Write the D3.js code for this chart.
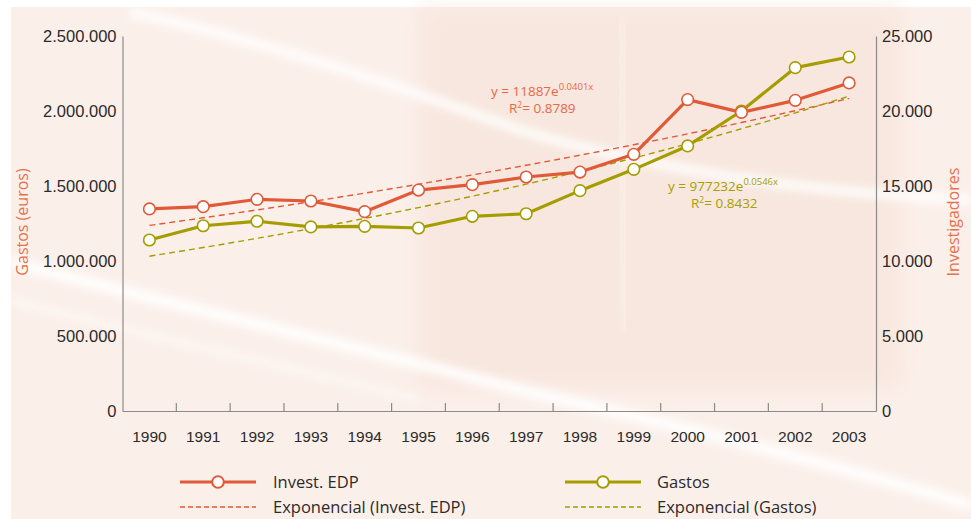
<!DOCTYPE html>
<html><head><meta charset="utf-8">
<script src="https://cdn.jsdelivr.net/npm/d3@7/dist/d3.min.js"></script>
<style>
html,body{margin:0;padding:0;background:#fff;}
svg{display:block;font-family:"Open Sans","DejaVu Sans",sans-serif;}
</style></head>
<body><svg id="c" width="971" height="519"></svg>
<script>
// ---- data ----
const years = ["1990","1991","1992","1993","1994","1995","1996","1997","1998","1999","2000","2001","2002","2003"];
// Invest. EDP (investigadores, right axis)
const investEDP = [13470,13620,14110,14000,13290,14730,15090,15600,15930,17110,20760,19910,20710,21870];
// Gastos (euros, left axis)
const gastos = [1140000,1235000,1265000,1227000,1231000,1220000,1298000,1315000,1469000,1611000,1767000,2000000,2289000,2360000];
// Exponential trend lines (values per year, as drawn)
const trendInvest = [12373,12880,13407,13955,14526,15120,15739,16383,17053,17751,18477,19233,20020,20840];
const trendGastos = [1032075,1089995,1151148,1215755,1283985,1356036,1432142,1512511,1597394,1687026,1781710,1881689,1987289,2098812];
const leftTicks = [0,500000,1000000,1500000,2000000,2500000];
const rightTicks = [0,5000,10000,15000,20000,25000];
const eqInvest = ["y = 11887e", "0.0401x", "R", "= 0.8789"];
const eqGastos = ["y = 977232e", "0.0546x", "R", "= 0.8432"];
const legendLabels = ["Invest. EDP","Exponencial (Invest. EDP)","Gastos","Exponencial (Gastos)"];

const ORANGE = "#e05a38", OLIVE = "#a59d00", AXIS = "#8a8a8a", TXT = "#2b2b2b", LABEL = "#e8704e";

const svg = d3.select("#c");
const W = 971, H = 519;

// ---- background ----
const defs = svg.append("defs");
defs.append("filter").attr("id","blur").append("feGaussianBlur").attr("stdDeviation",4);
defs.append("filter").attr("id","blur2").append("feGaussianBlur").attr("stdDeviation",10);
const bg = svg.append("g");
bg.append("rect").attr("x",11).attr("y",7).attr("width",W-11).attr("height",H-7).attr("fill","#fbefe9");
bg.append("rect").attr("x",420).attr("y",7).attr("width",480).attr("height",380).attr("fill","#f6e2d8").attr("opacity",0.6).attr("filter","url(#blur2)");
bg.append("path").attr("d","M130,12 C260,40 380,80 520,130 C620,160 760,190 971,200")
  .attr("fill","none").attr("stroke","#ffffff").attr("stroke-width",10).attr("opacity",0.85).attr("filter","url(#blur)");
bg.append("path").attr("d","M11,262 C150,300 330,340 520,390 C700,430 850,470 971,505")
  .attr("fill","none").attr("stroke","#ffffff").attr("stroke-width",12).attr("opacity",0.9).attr("filter","url(#blur)");
bg.append("path").attr("d","M11,300 C120,330 260,360 420,400")
  .attr("fill","none").attr("stroke","#ffffff").attr("stroke-width",6).attr("opacity",0.6).attr("filter","url(#blur)");
bg.append("path").attr("d","M620,20 L625,330").attr("fill","none").attr("stroke","#ffffff").attr("stroke-width",8).attr("opacity",0.35).attr("filter","url(#blur)");

// ---- scales ----
const x0 = 122.5, x1 = 876, yTop = 36, yBot = 411;
const x = d3.scaleBand().domain(years).range([x0, x1]).paddingInner(0).paddingOuter(0);
const yL = d3.scaleLinear().domain([0,2500000]).range([yBot, yTop]);
const yR = d3.scaleLinear().domain([0,25000]).range([yBot, yTop]);
const cx = d => x(d) + x.bandwidth()/2;
const fmt = v => d3.format(",")(v).replace(/,/g,".");

// ---- axes ----
const axL = svg.append("g").attr("transform",`translate(${x0},0)`)
  .call(d3.axisLeft(yL).tickValues(leftTicks).tickSize(0).tickPadding(6).tickFormat(fmt));
const axR = svg.append("g").attr("transform",`translate(${x1},0)`)
  .call(d3.axisRight(yR).tickValues(rightTicks).tickSize(0).tickPadding(6).tickFormat(fmt));
[axL,axR].forEach(a=>{
  a.select(".domain").attr("stroke",AXIS).attr("stroke-width",1.2);
  a.selectAll("text").attr("fill",TXT).attr("font-size",16.5);
});
const axB = svg.append("g").attr("transform",`translate(0,${yBot})`)
  .call(d3.axisBottom(x).tickSize(0).tickPadding(20));
axB.select(".domain").attr("stroke",AXIS).attr("stroke-width",1.2);
axB.selectAll("text").attr("fill",TXT).attr("font-size",15.5);
// category boundary ticks (pointing up)
svg.append("g").selectAll("line").data(years.slice(1)).join("line")
  .attr("x1",d=>x(d)).attr("x2",d=>x(d)).attr("y1",yBot).attr("y2",yBot-8)
  .attr("stroke",AXIS).attr("stroke-width",1.2);

// axis titles
svg.append("text").attr("transform",`translate(28,222) rotate(-90)`).attr("text-anchor","middle")
  .attr("fill",LABEL).attr("font-size",16).text("Gastos (euros)");
svg.append("text").attr("transform",`translate(959,222) rotate(-90)`).attr("text-anchor","middle")
  .attr("fill",LABEL).attr("font-size",16).text("Investigadores");

// ---- trend lines ----
const lineR = d3.line().x((d,i)=>cx(years[i])).y(d=>yR(d)).curve(d3.curveMonotoneX);
const lineL = d3.line().x((d,i)=>cx(years[i])).y(d=>yL(d)).curve(d3.curveMonotoneX);
svg.append("path").datum(trendInvest).attr("d",lineR).attr("fill","none")
  .attr("stroke",ORANGE).attr("stroke-width",1.4).attr("stroke-dasharray","6,4");
svg.append("path").datum(trendGastos).attr("d",lineL).attr("fill","none")
  .attr("stroke",OLIVE).attr("stroke-width",1.4).attr("stroke-dasharray","6,4");

// ---- data lines ----
const lineR2 = d3.line().x((d,i)=>cx(years[i])).y(d=>yR(d));
const lineL2 = d3.line().x((d,i)=>cx(years[i])).y(d=>yL(d));
svg.append("path").datum(gastos).attr("d",lineL2).attr("fill","none")
  .attr("stroke",OLIVE).attr("stroke-width",3.2).attr("stroke-linejoin","round");
svg.append("path").datum(investEDP).attr("d",lineR2).attr("fill","none")
  .attr("stroke",ORANGE).attr("stroke-width",3.2).attr("stroke-linejoin","round");
svg.append("g").selectAll("circle").data(gastos).join("circle")
  .attr("cx",(d,i)=>cx(years[i])).attr("cy",d=>yL(d)).attr("r",5.8)
  .attr("fill","#fff").attr("stroke",OLIVE).attr("stroke-width",1.6);
svg.append("g").selectAll("circle").data(investEDP).join("circle")
  .attr("cx",(d,i)=>cx(years[i])).attr("cy",d=>yR(d)).attr("r",5.8)
  .attr("fill","#fff").attr("stroke",ORANGE).attr("stroke-width",1.6);

// ---- equations (one text element, two lines) ----
function equation(eq, x1p, x2p, y1, color){
  const t = svg.append("text").attr("fill",color).attr("font-size",13.5);
  t.append("tspan").attr("x",x1p).attr("y",y1).text(eq[0]);
  t.append("tspan").attr("dy",-6).attr("font-size",9.5).text(eq[1]);
  t.append("tspan").attr("x",x2p).attr("y",y1+17).text(eq[2]);
  t.append("tspan").attr("dy",-5).attr("font-size",8.5).text("2");
  t.append("tspan").attr("dy",5).text(eq[3]);
}
equation(eqInvest, 491, 509, 96, "#e8694a");
equation(eqGastos, 668, 691, 191, "#a8a000");

// ---- legend ----
const lg = svg.append("g");
const items = [
  {lx:180, y:482, c:ORANGE, dash:false, t:legendLabels[0], tx:273},
  {lx:180, y:507, c:ORANGE, dash:true,  t:legendLabels[1], tx:273},
  {lx:565, y:482, c:OLIVE,  dash:false, t:legendLabels[2], tx:657},
  {lx:565, y:507, c:OLIVE,  dash:true,  t:legendLabels[3], tx:657}
];
items.forEach(it=>{
  lg.append("line").attr("x1",it.lx).attr("x2",it.lx+76).attr("y1",it.y).attr("y2",it.y)
    .attr("stroke",it.c).attr("stroke-width",it.dash?1.3:3.2).attr("stroke-dasharray",it.dash?"5,3":null);
  if(!it.dash) lg.append("circle").attr("cx",it.lx+38).attr("cy",it.y).attr("r",5.8)
    .attr("fill","#fff").attr("stroke",it.c).attr("stroke-width",2);
  lg.append("text").attr("x",it.tx).attr("y",it.y+5.5).attr("fill",TXT).attr("font-size",16.5).text(it.t);
});
</script></body></html>
